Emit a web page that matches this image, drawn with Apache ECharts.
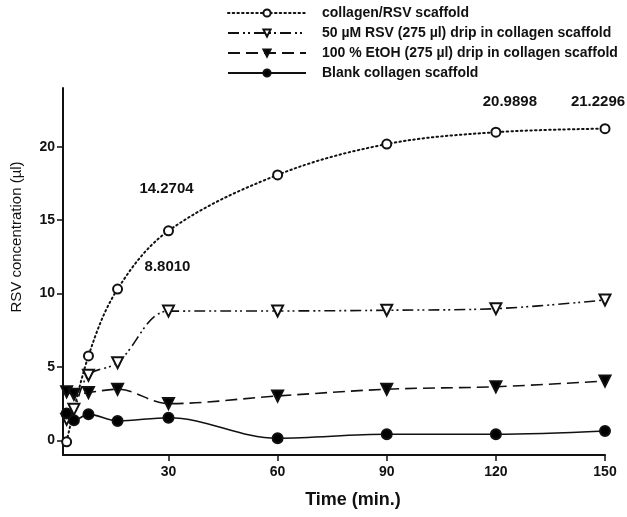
<!DOCTYPE html>
<html>
<head>
<meta charset="utf-8">
<script src="https://cdn.jsdelivr.net/npm/echarts@6/dist/echarts.min.js"></script>
<style>html,body{margin:0;padding:0;background:#fff;}#c{width:627px;height:517px;}</style>
</head>
<body>
<div id="c"></div>
<script>
// ---- data ----
var seriesNames = [
  'collagen/RSV scaffold',
  '50 \u00b5M RSV (275 \u00b5l) drip in collagen scaffold',
  '100 % EtOH (275 \u00b5l) drip in collagen scaffold',
  'Blank collagen scaffold'
];
var timesCollagen = [2, 8, 16, 30, 60, 90, 120, 150];
var valuesCollagen = [-0.1, 5.75, 10.3, 14.2704, 18.08, 20.18, 20.9898, 21.2296];
var times = [2, 4, 8, 16, 30, 60, 90, 120, 150];
var valuesRSVDrip = [1.43, 2.11, 4.43, 5.29, 8.8010, 8.81, 8.86, 8.97, 9.56];
var valuesEtOH = [3.31, 3.13, 3.25, 3.48, 2.5, 3.02, 3.48, 3.65, 4.04];
var valuesBlank = [1.82, 1.36, 1.77, 1.32, 1.54, 0.14, 0.41, 0.41, 0.63];
var xTicks = [30, 60, 90, 120, 150];
var yTicks = [0, 5, 10, 15, 20];
var annotations = [
  {series: 0, index: 3, text: '14.2704', offset: [-2, -42]},
  {series: 1, index: 4, text: '8.8010', offset: [-1, -44]},
  {series: 0, index: 6, text: '20.9898', offset: [14, -30]},
  {series: 0, index: 7, text: '21.2296', offset: [-7, -27]}
];

// ---- build ----
function pairs(xs, ys) { return xs.map(function (x, i) { return [x, ys[i]]; }); }
var seriesData = [
  pairs(timesCollagen, valuesCollagen),
  pairs(times, valuesRSVDrip),
  pairs(times, valuesEtOH),
  pairs(times, valuesBlank)
].map(function (d) { return d.map(function (p) { return {value: p}; }); });

annotations.forEach(function (a) {
  seriesData[a.series][a.index].label = {
    show: true, position: 'inside', offset: a.offset, formatter: a.text,
    fontFamily: 'Liberation Sans', fontWeight: 'bold', fontSize: 15, color: '#111'
  };
});

var styles = [
  {symbol: 'circle', size: 9, rotate: 0, fill: '#fff', dash: [1.5, 3.2], width: 2, cap: 'round'},
  {symbol: 'triangle', size: 11, rotate: 180, fill: '#fff', dash: [11, 4, 2, 3, 2, 4], width: 1.6, cap: 'butt'},
  {symbol: 'triangle', size: 11, rotate: 180, fill: '#000', dash: [12, 6], width: 1.6, cap: 'butt'},
  {symbol: 'circle', size: 10, rotate: 0, fill: '#000', dash: 'solid', width: 1.6, cap: 'butt'}
];

var series = seriesData.map(function (d, i) {
  var s = styles[i];
  return {
    name: seriesNames[i],
    type: 'line',
    data: d,
    smooth: 0.35,
    symbol: s.symbol,
    symbolSize: s.size,
    symbolRotate: s.rotate,
    showAllSymbol: true,
    z: 2 + i,
    lineStyle: {color: '#111', width: s.width, type: s.dash, cap: s.cap},
    itemStyle: {color: s.fill, borderColor: '#111', borderWidth: 2},
    label: {show: false},
    emphasis: {disabled: true}
  };
});

var chart = echarts.init(document.getElementById('c'), null, {renderer: 'canvas'});
chart.setOption({
  animation: false,
  backgroundColor: '#fff',
  grid: {left: 63, right: 22, top: 88, bottom: 62, containLabel: false},
  legend: {
    orient: 'vertical',
    left: 222,
    top: 1,
    itemWidth: 78,
    itemHeight: 9,
    itemGap: 6,
    selectedMode: false,
    data: seriesNames,
    textStyle: {fontFamily: 'Liberation Sans', fontWeight: 'bold', fontSize: 14, color: '#111', padding: [0, 0, 0, 11], lineHeight: 14}
  },
  xAxis: {
    type: 'value', min: 1, max: 150,
    axisLine: {show: true, onZero: false, lineStyle: {color: '#111', width: 2}},
    axisTick: {show: true, inside: false, length: 6, customValues: xTicks, lineStyle: {color: '#111', width: 1.5}},
    axisLabel: {customValues: xTicks, margin: 10, fontFamily: 'Liberation Sans', fontWeight: 'bold', fontSize: 14, color: '#111'},
    splitLine: {show: false}
  },
  yAxis: {
    type: 'value', min: -1, max: 24,
    axisLine: {show: true, onZero: false, lineStyle: {color: '#111', width: 2}},
    axisTick: {show: true, inside: false, length: 6, customValues: yTicks, lineStyle: {color: '#111', width: 1.5}},
    axisLabel: {customValues: yTicks, margin: 8, fontFamily: 'Liberation Sans', fontWeight: 'bold', fontSize: 14, color: '#111'},
    splitLine: {show: false}
  },
  graphic: [
    {type: 'text', x: 353, y: 500, style: {text: 'Time (min.)', fontFamily: 'Liberation Sans', fontWeight: 'bold', fontSize: 18, fill: '#111', align: 'center', verticalAlign: 'middle'}},
    {type: 'text', x: 17, y: 237, rotation: Math.PI / 2, style: {text: 'RSV concentration (\u00b5l)', fontFamily: 'Liberation Sans', fontSize: 15, fill: '#111', align: 'center', verticalAlign: 'middle'}}
  ],
  series: series
});
</script>
</body>
</html>
